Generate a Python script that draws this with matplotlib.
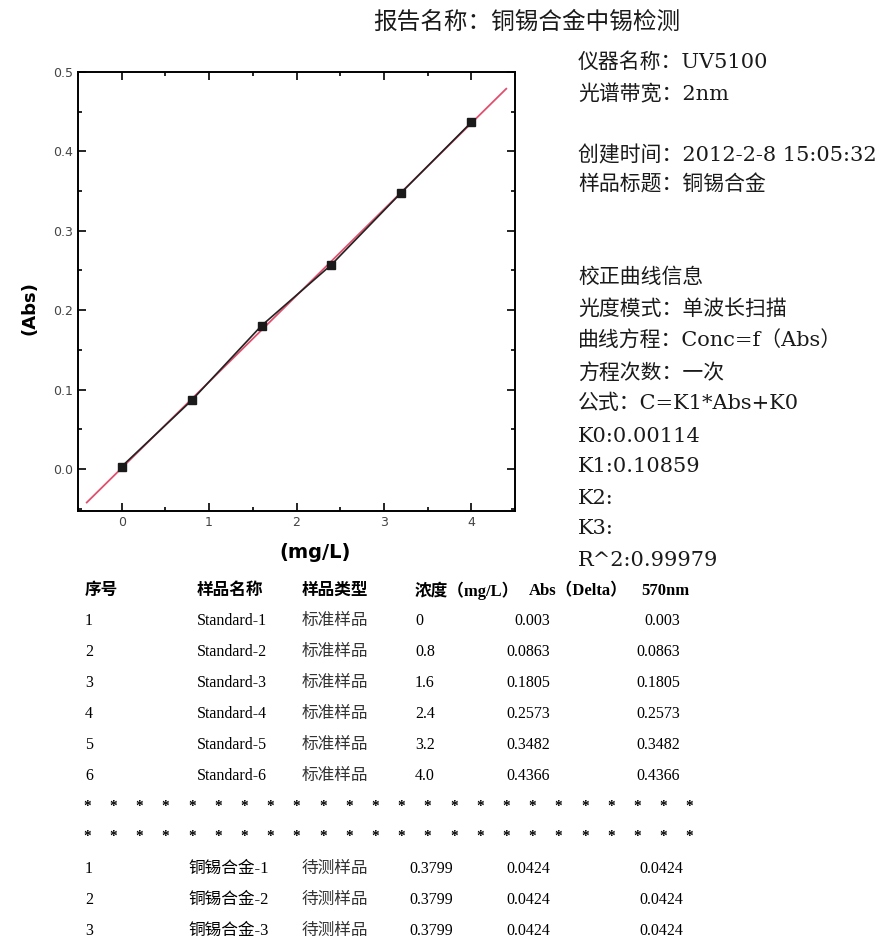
import matplotlib
matplotlib.use("Agg")
import matplotlib.pyplot as plt
from matplotlib.ticker import MultipleLocator

# calibration data
conc = [0, 0.8, 1.6, 2.4, 3.2, 4.0]
absv = [0.003, 0.0863, 0.1805, 0.2573, 0.3482, 0.4366]
k0 = 0.00114
k1 = 0.10859
fit_x = [-0.4, 4.4]

title = "报告名称：铜锡合金中锡检测"
info_lines = ["仪器名称：UV5100", "光谱带宽：2nm", "创建时间：2012-2-8 15:05:32", "样品标题：铜锡合金",
              "校正曲线信息", "光度模式：单波长扫描", "曲线方程：Conc=f（Abs）", "方程次数：一次",
              "公式：C=K1*Abs+K0", "K0:0.00114", "K1:0.10859", "K2:", "K3:", "R^2:0.99979"]
info_y = [62, 94, 155, 185, 277, 309, 341, 373, 403, 437, 467, 499, 529, 560]

headers = ["序号", "样品名称", "样品类型", "浓度（mg/L）", "Abs（Delta）", "570nm"]
std_no = ["1", "2", "3", "4", "5", "6"]
std_name = ["Standard-1", "Standard-2", "Standard-3", "Standard-4", "Standard-5", "Standard-6"]
std_type = ["标准样品"] * 6
std_conc = ["0", "0.8", "1.6", "2.4", "3.2", "4.0"]
std_abs = ["0.003", "0.0863", "0.1805", "0.2573", "0.3482", "0.4366"]
smp_no = ["1", "2", "3"]
smp_name = ["铜锡合金-1", "铜锡合金-2", "铜锡合金-3"]
smp_type = ["待测样品"] * 3
smp_conc = ["0.3799", "0.3799", "0.3799"]
smp_abs = ["0.0424", "0.0424", "0.0424"]

W, H = 883, 939
def fx(x): return x / W
def fy(y): return 1 - y / H

mixed = ['DejaVu Serif', 'Noto Sans CJK SC']
table_f = ['Liberation Serif', 'Noto Sans CJK SC']

fig = plt.figure(figsize=(W / 100, H / 100), dpi=100)
ax = fig.add_axes([fx(78), fy(511), fx(515) - fx(78), fy(72) - fy(511)])

ax.plot(fit_x, [k1 * x + k0 for x in fit_x], color='#e0506e', lw=1.3, zorder=2)
ax.plot(conc, absv, color='#222222', lw=1.2, marker='s', ms=6, mfc='#1a1a1a', mec='#1a1a1a', zorder=3)

ax.set_xlim(-0.5, 4.5)
ax.set_ylim(-0.053, 0.5)
ax.xaxis.set_major_locator(MultipleLocator(1))
ax.xaxis.set_minor_locator(MultipleLocator(0.5))
ax.yaxis.set_major_locator(MultipleLocator(0.1))
ax.yaxis.set_minor_locator(MultipleLocator(0.05))
ax.yaxis.set_major_formatter(lambda v, p: "%.1f" % v)
ax.tick_params(which='both', direction='in', top=True, right=True, width=1.2, labelsize=9, labelcolor='#444444')
ax.tick_params(which='major', length=6)
ax.tick_params(which='minor', length=3)
for s in ax.spines.values():
    s.set_linewidth(1.4)

fig.text(fx(315), fy(553), "(mg/L)", fontsize=14, fontweight='bold', ha='center', va='center')
fig.text(fx(30), fy(308), "(Abs)", fontsize=13, fontweight='bold', rotation=90, ha='center', va='center')

# report info
fig.text(fx(373), fy(22), title, fontsize=17, family=mixed, ha='left', va='center', color='#1a1a1a')
for line, y in zip(info_lines, info_y):
    fig.text(fx(578), fy(y), line, fontsize=15, family=mixed, ha='left', va='center', color='#1a1a1a')

# table
head_x = [85, 197, 302, 415, 529, 641]
for h, x in zip(headers, head_x):
    fig.text(fx(x), fy(591), h, fontsize=12, family=table_f, fontweight='bold', ha='left', va='center')

row_y = [621, 652, 683, 714, 745, 776]
for i, y in enumerate(row_y):
    fig.text(fx(85), fy(y), std_no[i], fontsize=11.5, family=table_f, ha='left', va='center')
    fig.text(fx(197), fy(y), std_name[i], fontsize=11.5, family=table_f, ha='left', va='center')
    fig.text(fx(302), fy(y), std_type[i], fontsize=12, family=table_f, ha='left', va='center', color='#333333')
    fig.text(fx(415), fy(y), std_conc[i], fontsize=11.5, family=table_f, ha='left', va='center')
    fig.text(fx(550), fy(y), std_abs[i], fontsize=11.5, family=table_f, ha='right', va='center')
    fig.text(fx(680), fy(y), std_abs[i], fontsize=11.5, family=table_f, ha='right', va='center')

for y in [806, 836]:
    for j in range(24):
        fig.text(fx(87 + j * 26.2), fy(y), "*", fontsize=11, family=table_f, fontweight='bold', ha='center', va='center')

smp_y = [869, 900, 931]
for i, y in enumerate(smp_y):
    fig.text(fx(85), fy(y), smp_no[i], fontsize=11.5, family=table_f, ha='left', va='center')
    fig.text(fx(188), fy(y), smp_name[i], fontsize=12, family=table_f, ha='left', va='center')
    fig.text(fx(302), fy(y), smp_type[i], fontsize=12, family=table_f, ha='left', va='center', color='#333333')
    fig.text(fx(409), fy(y), smp_conc[i], fontsize=11.5, family=table_f, ha='left', va='center')
    fig.text(fx(550), fy(y), smp_abs[i], fontsize=11.5, family=table_f, ha='right', va='center')
    fig.text(fx(683), fy(y), smp_abs[i], fontsize=11.5, family=table_f, ha='right', va='center')

fig.savefig("out.png", dpi=100)
